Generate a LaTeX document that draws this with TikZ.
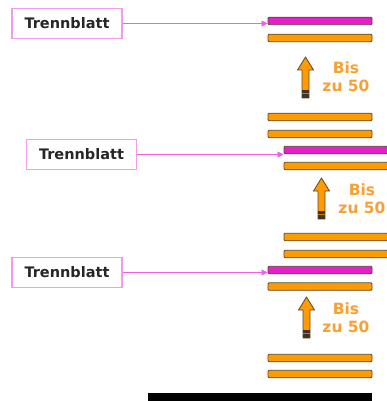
\documentclass[tikz,border=0pt]{standalone}
\usepackage{fontspec}
\setmainfont{DejaVu Sans}
\usetikzlibrary{arrows.meta}
\definecolor{barorange}{HTML}{FF9A00}
\definecolor{baredge}{HTML}{5A4A35}
\definecolor{barmag}{HTML}{E61ECC}
\definecolor{boxpink}{HTML}{F39AEC}
\definecolor{linkpink}{HTML}{F25EE4}
\definecolor{txtorange}{HTML}{F8A033}
\tikzset{
  bar/.style={draw=baredge, line width=0.9pt, fill=barorange, rounded corners=1pt, minimum width=104pt, minimum height=7.5pt, inner sep=0pt},
  magbar/.style={bar, fill=barmag},
  base/.style={fill=black, minimum width=224pt, minimum height=10pt, inner sep=0pt},
  labelbox/.style={draw=boxpink, line width=1.4pt, fill=white, minimum width=110pt, minimum height=30pt, inner sep=0pt, font=\fontsize{14.5}{16}\selectfont\bfseries, text=black!85},
  link/.style={draw=linkpink, line width=0.8pt, -{Triangle[length=6pt,width=6pt]}},
  count/.style={text=txtorange, font=\fontsize{15.5}{18}\selectfont\bfseries, align=center, inner sep=0pt},
  uparr/.pic={
    \draw[draw=baredge, line width=0.8pt, fill=barorange, line join=round]
      (-3.5,41)--(-3.5,13)--(-8,13)--(0,0)--(8,13)--(3.5,13)--(3.5,41)--cycle;
    \fill[baredge!70!black] (-3.5,33) rectangle (3.5,41);
    \draw[barorange!80!black, line width=0.8pt] (-3.5,36.5)--(3.5,36.5);
  }
}
\begin{document}
\begin{tikzpicture}[x=1pt, y=-1pt]
\useasboundingbox (0,0) rectangle (386,401);
% group 1
\node[magbar] (m1) at (320,21) {};
\node[bar] (o1a) at (320,38) {};
\node[labelbox] (l1) at (67,23.5) {Trennblatt};
\draw[link] (l1.east) -- (l1.east -| m1.west);
\pic (a1) at (305.5,57) {uparr};
\node[count] (c1) at (346,76.5) {Bis\\zu 50};
% group 2
\node[bar] (o2a) at (320,117) {};
\node[bar] (o2b) at (320,134) {};
\node[magbar] (m2) at (336,150) {};
\node[bar] (o2c) at (336,166) {};
\node[labelbox] (l2) at (81.5,154.5) {Trennblatt};
\draw[link] (l2.east) -- (l2.east -| m2.west);
\pic (a2) at (321.5,178) {uparr};
\node[count] (c2) at (362,198.5) {Bis\\zu 50};
\node[bar] (o2d) at (336,237) {};
\node[bar] (o2e) at (336,254) {};
% group 3
\node[magbar] (m3) at (320,270) {};
\node[bar] (o3a) at (320,286.5) {};
\node[labelbox] (l3) at (67,272.5) {Trennblatt};
\draw[link] (l3.east) -- (l3.east -| m3.west);
\pic (a3) at (306.5,297) {uparr};
\node[count] (c3) at (346,318) {Bis\\zu 50};
\node[bar] (o3b) at (320,358) {};
\node[bar] (o3c) at (320,374) {};
\node[base] (b) at (260,398) {};
\end{tikzpicture}
\end{document}
